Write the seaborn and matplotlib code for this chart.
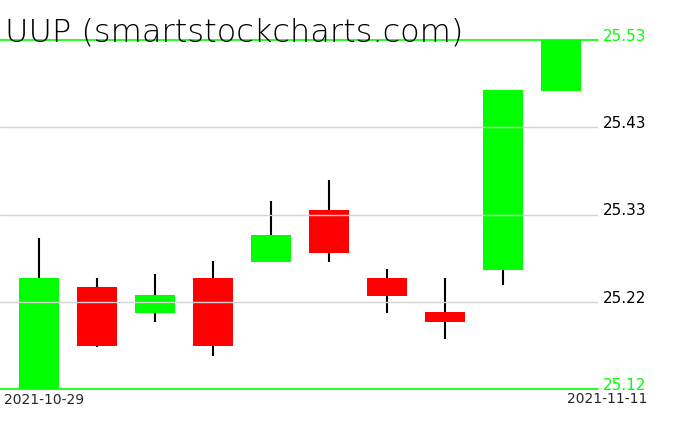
import matplotlib
matplotlib.use('Agg')
import matplotlib.pyplot as plt
import seaborn as sns

# candle data
dates = ['2021-10-29', '2021-11-01', '2021-11-02', '2021-11-03', '2021-11-04',
         '2021-11-05', '2021-11-08', '2021-11-09', '2021-11-10', '2021-11-11']
opens = [25.120, 25.240, 25.209, 25.250, 25.269, 25.330, 25.250, 25.210, 25.260, 25.470]
closes = [25.250, 25.170, 25.230, 25.170, 25.301, 25.280, 25.229, 25.199, 25.471, 25.530]
highs = [25.297, 25.250, 25.255, 25.270, 25.341, 25.366, 25.261, 25.250, 25.471, 25.530]
lows = [25.120, 25.169, 25.199, 25.159, 25.269, 25.269, 25.209, 25.179, 25.242, 25.470]

y_min, y_max = 25.12, 25.53
grid_vals = [25.2225, 25.325, 25.4275]
grid_labels = ['25.22', '25.33', '25.43']

sns.set_style('white')
plt.rcParams['font.family'] = ['DejaVu Sans']

fig = plt.figure(figsize=(6.76, 4.31), dpi=100)
ax = fig.add_axes([0, 1 - 390 / 431, 598 / 676, 349 / 431])

x = list(range(len(dates)))
colors = ['#00ff00' if c >= o else '#ff0000' for o, c in zip(opens, closes)]
bottoms = [min(o, c) for o, c in zip(opens, closes)]
heights = [abs(c - o) for o, c in zip(opens, closes)]

# wicks then bodies
ax.vlines(x, lows, highs, color='black', linewidth=1.5, zorder=1)
ax.bar(x, heights, bottom=bottoms, width=0.69, color=colors, linewidth=0, zorder=2)

# grid lines sit on top of the bodies
for g in grid_vals:
    ax.axhline(g, color='#d3d3d3', linewidth=1, zorder=3)
ax.axhline(y_max, color='#00ff00', linewidth=1.2, zorder=4, clip_on=False)
ax.axhline(y_min, color='#00ff00', linewidth=1.2, zorder=4, clip_on=False)

ax.set_xlim(-0.672, 9.638)
ax.set_ylim(y_min, y_max)
ax.set_xticks([])
ax.set_yticks([])
for s in ax.spines.values():
    s.set_visible(False)

# right side price labels
tr = ax.get_yaxis_transform()
ax.text(1.008, y_max, f'{y_max:.2f}', transform=tr, color='#00ff00',
        fontsize=11, va='baseline', ha='left')
ax.text(1.008, y_min, f'{y_min:.2f}', transform=tr, color='#00ff00',
        fontsize=11, va='baseline', ha='left')
for g, lab in zip(grid_vals, grid_labels):
    ax.text(1.008, g, lab, transform=tr, color='black', fontsize=11,
            va='baseline', ha='left')

# title and dates
fig.text(5 / 676, 1 - 41 / 431, 'UUP (smartstockcharts.com)', fontsize=23,
         color='black', va='baseline', ha='left', fontweight='light')
fig.text(4 / 676, 1 - 393 / 431, dates[0], fontsize=10, va='top', ha='left')
fig.text(647 / 676, 1 - 392 / 431, dates[-1], fontsize=10, va='top', ha='right')

fig.savefig('out.png', dpi=100)
